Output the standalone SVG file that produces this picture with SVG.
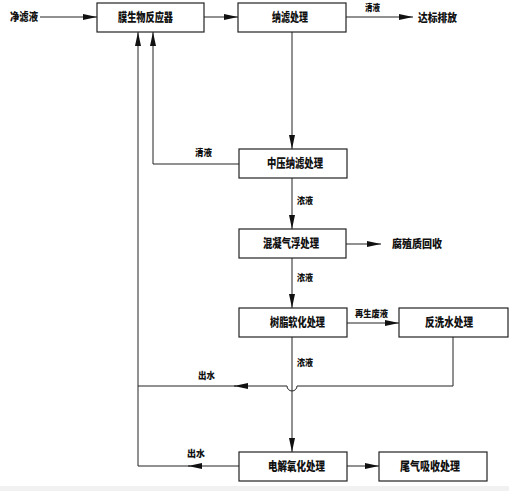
<svg xmlns="http://www.w3.org/2000/svg" width="509" height="491" viewBox="0 0 509 491">
<style>
.box{fill:#fff;stroke:#222;stroke-width:1.2}
.bt{font-family:"Noto Sans CJK SC","Noto Sans CJK JP",sans-serif;font-size:12px;font-weight:900;fill:#111;text-anchor:middle}
.lt{font-family:"Noto Sans CJK SC","Noto Sans CJK JP",sans-serif;font-size:9.5px;font-weight:900;fill:#111}
.c{fill:none;stroke:#222;stroke-width:1}
</style>
<defs>
<marker id="ar" viewBox="0 0 14 6" refX="14" refY="3" markerWidth="14" markerHeight="6" markerUnits="userSpaceOnUse" orient="auto">
<path d="M0,0 L14,3 L0,6 Z" fill="#111"/>
</marker>
</defs>
<rect x="0" y="0" width="509" height="491" fill="#fff"/>
<rect x="0" y="486" width="509" height="5" fill="#f1f1f1"/>
<g id="connectors">
<path class="c" d="M40,17 H97" marker-end="url(#ar)"/>
<path class="c" d="M204,17 H238" marker-end="url(#ar)"/>
<path class="c" d="M346,17 H413" marker-end="url(#ar)"/>
<path class="c" d="M292,32 V149" marker-end="url(#ar)"/>
<path class="c" d="M239,164 H153 V32" marker-end="url(#ar)"/>
<path class="c" d="M292,178 V229" marker-end="url(#ar)"/>
<path class="c" d="M346,244 H381" marker-end="url(#ar)"/>
<path class="c" d="M292,258 V308" marker-end="url(#ar)"/>
<path class="c" d="M347,323 H399" marker-end="url(#ar)"/>
<path class="c" d="M292,337 V452" marker-end="url(#ar)"/>
<path class="c" d="M453,337 V386 H297 A5,5 0 0 1 287,386 H234" marker-end="url(#ar)"/>
<path class="c" d="M236,386 H138"/>
<path class="c" d="M239,466 H188" marker-end="url(#ar)"/>
<path class="c" d="M190,466 H138 V32" marker-end="url(#ar)"/>
<path class="c" d="M347,466 H379" marker-end="url(#ar)"/>
</g>
<g id="labels">
<text class="lt" x="10" y="21" textLength="28" lengthAdjust="spacingAndGlyphs" style="font-size:11px">净滤液</text>
<text class="lt" x="365" y="11" textLength="15" lengthAdjust="spacingAndGlyphs">清液</text>
<text class="lt" x="418" y="21.5" textLength="39" lengthAdjust="spacingAndGlyphs" style="font-size:11.5px">达标排放</text>
<text class="lt" x="195" y="156" textLength="17" lengthAdjust="spacingAndGlyphs">清液</text>
<text class="lt" x="297" y="204" textLength="16" lengthAdjust="spacingAndGlyphs">浓液</text>
<text class="lt" x="392" y="248" textLength="50" lengthAdjust="spacingAndGlyphs" style="font-size:11px">腐殖质回收</text>
<text class="lt" x="297" y="281" textLength="16" lengthAdjust="spacingAndGlyphs">浓液</text>
<text class="lt" x="355" y="317" textLength="33" lengthAdjust="spacingAndGlyphs">再生废液</text>
<text class="lt" x="297" y="366" textLength="16" lengthAdjust="spacingAndGlyphs">浓液</text>
<text class="lt" x="198" y="379" textLength="17" lengthAdjust="spacingAndGlyphs">出水</text>
<text class="lt" x="187" y="457" textLength="18" lengthAdjust="spacingAndGlyphs">出水</text>
</g>
<g id="n-mbr"><rect class="box" x="97" y="3" width="107" height="29"/><text class="bt" x="145.5" y="22" textLength="55" lengthAdjust="spacingAndGlyphs">膜生物反应器</text></g>
<g id="n-nf"><rect class="box" x="238" y="3" width="108" height="29"/><text class="bt" x="290" y="22" textLength="36" lengthAdjust="spacingAndGlyphs">纳滤处理</text></g>
<g id="n-mpnf"><rect class="box" x="239" y="149" width="108" height="29"/><text class="bt" x="295" y="168" textLength="56" lengthAdjust="spacingAndGlyphs">中压纳滤处理</text></g>
<g id="n-coag"><rect class="box" x="239" y="229" width="107" height="29"/><text class="bt" x="291" y="248" textLength="56" lengthAdjust="spacingAndGlyphs">混凝气浮处理</text></g>
<g id="n-resin"><rect class="box" x="239" y="308" width="108" height="29"/><text class="bt" x="297.5" y="327" textLength="55" lengthAdjust="spacingAndGlyphs">树脂软化处理</text></g>
<g id="n-backwash"><rect class="box" x="399" y="308" width="109" height="29"/><text class="bt" x="449" y="327" textLength="48" lengthAdjust="spacingAndGlyphs">反洗水处理</text></g>
<g id="n-electro"><rect class="box" x="239" y="452" width="108" height="29"/><text class="bt" x="296.5" y="471" textLength="57" lengthAdjust="spacingAndGlyphs">电解氧化处理</text></g>
<g id="n-tail"><rect class="box" x="379" y="452" width="108" height="29"/><text class="bt" x="430" y="471" textLength="60" lengthAdjust="spacingAndGlyphs">尾气吸收处理</text></g>
</svg>
